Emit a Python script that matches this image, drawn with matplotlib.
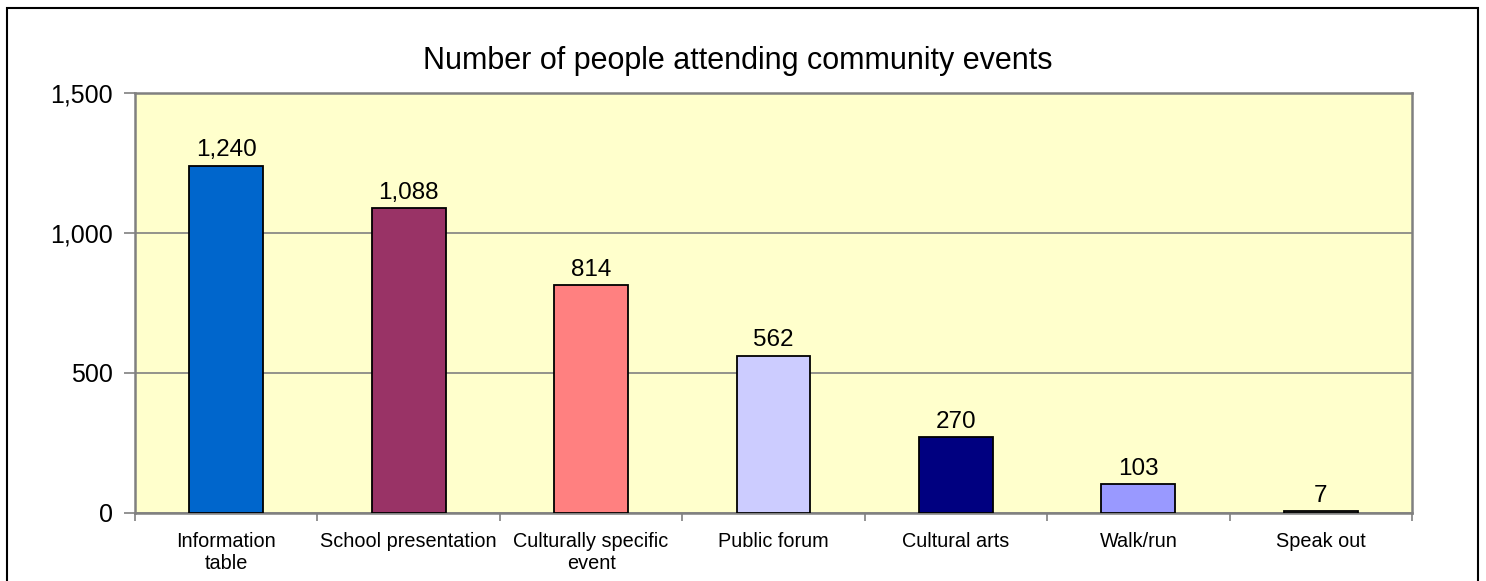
import matplotlib
matplotlib.use('Agg')
import matplotlib.pyplot as plt
import matplotlib.ticker as mtick
from matplotlib.patches import Rectangle

categories = ['Information\ntable', 'School presentation', 'Culturally specific\nevent',
              'Public forum', 'Cultural arts', 'Walk/run', 'Speak out']
attendance = [1240, 1088, 814, 562, 270, 103, 7]
bar_colors = ['#0066CC', '#993366', '#FF8080', '#CCCCFF', '#000080', '#9999FF', '#808080']

plt.rcParams['font.family'] = ['Liberation Sans', 'DejaVu Sans']

fig = plt.figure(figsize=(14.86, 5.81), dpi=100)
ax = fig.add_axes([135/1486, 1 - 513/581, (1412-135)/1486, (513-93)/581])

x = range(len(categories))
bars = ax.bar(x, attendance, width=0.405, color=bar_colors, edgecolor='black', linewidth=1.3, zorder=3)
for b, v in zip(bars, attendance):
    ax.text(b.get_x() + b.get_width()/2, v + 16, f'{v:,}', ha='center', va='bottom', fontsize=17.5)

ax.set_facecolor('#FFFFCC')
ax.set_xlim(-0.5, len(categories) - 0.5)
ax.set_ylim(0, 1500)
ax.set_yticks([0, 500, 1000, 1500])
ax.yaxis.set_major_formatter(mtick.StrMethodFormatter('{x:,.0f}'))
ax.grid(axis='y', color='#808080', linewidth=1.2, zorder=1)

# category ticks sit between the bars, labels centred under each bar
ax.set_xticks([i + 0.5 for i in range(-1, len(categories))])
ax.set_xticklabels([])
ax.set_xticks(list(x), minor=True)
ax.set_xticklabels(categories, minor=True, fontsize=14.3, linespacing=1.15)
ax.tick_params(axis='x', which='minor', length=0, pad=14)
ax.tick_params(axis='x', which='major', length=6, color='#808080', width=1.2)
ax.tick_params(axis='y', length=8, color='#808080', width=1.2, labelsize=18, pad=8)
for s in ax.spines.values():
    s.set_color('#808080')
    s.set_linewidth(1.8)

fig.text(738/1486, 1 - 61/581, 'Number of people attending community events',
         ha='center', va='center', fontsize=22)

fig.patches.append(Rectangle((7/1486, -0.05), (1478-7)/1486, 1 - 8/581 + 0.05,
                             transform=fig.transFigure, fill=False, edgecolor='black', linewidth=1.5))

fig.savefig('out.png', dpi=100)
